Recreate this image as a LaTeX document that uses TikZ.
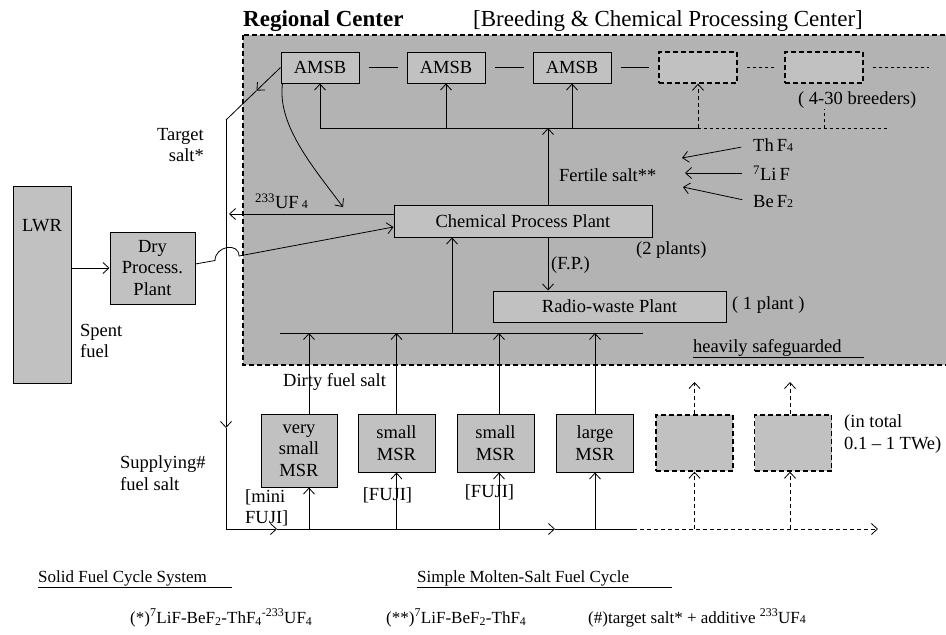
\documentclass[tikz,border=0pt]{standalone}
\usepackage{fontspec}
\setmainfont{Liberation Serif}
\usepackage{tikz}
\usetikzlibrary{arrows.meta,positioning,calc}
\definecolor{zone}{RGB}{179,179,179}
\definecolor{boxg}{RGB}{193,193,193}
\newcommand{\bodyfont}{\fontsize{18.5}{21.5}\selectfont}
\newcommand{\notefont}{\fontsize{17}{20}\selectfont}
\newcommand{\lowdig}[1]{{\fontsize{12}{12}\selectfont #1}}

\begin{document}
\begin{tikzpicture}[x=1pt,y=-1pt,
      font=\bodyfont,
      box/.style={draw,line width=1pt,fill=boxg,minimum width=78pt,minimum height=31pt,
                  inner sep=2pt,align=center},
      dbox/.style={box,line width=1.4pt,dash pattern=on 5pt off 3pt},
      ar/.style={-{Straight Barb[length=6pt,width=11pt]},line width=0.8pt},
      dar/.style={ar,dash pattern=on 4pt off 3pt},
      ln/.style={line width=0.8pt},
      txt/.style={inner sep=0pt,align=left}]
      \useasboundingbox (0,0) rectangle (946,635);
      \clip (0,0) rectangle (946,635);
      \fill[white] (0,0) rectangle (946,635);
      \node[txt,anchor=base west,font=\fontsize{23}{26}\selectfont\bfseries] (rc) at (243,26) {Regional Center};
      \node[txt,anchor=base west,font=\fontsize{23}{26}\selectfont] (bcp) at (473,26) {[Breeding \& Chemical Processing Center]};
      \draw[fill=zone,line width=1.6pt,dash pattern=on 5pt off 3pt] (243,35) rectangle (960,365);
      \node[box] (a1) at (320,67.5) {AMSB};
      \node[box] (a2) at (446,67.5) {AMSB};
      \node[box] (a3) at (572,67.5) {AMSB};
      \node[dbox] (a4) at (698,67.5) {};
      \node[dbox] (a5) at (824,67.5) {};
      \coordinate (rowend) at (929,67.5);
      \draw[ln,shorten <=9pt,shorten >=9pt] (a1.east) -- (a2.west); \draw[ln,shorten <=9pt,shorten >=9pt] (a2.east) -- (a3.west);
      \draw[ln,shorten <=9pt,shorten >=9pt] (a3.east) -- (a4.west); \draw[ln,dashed,shorten <=9pt,shorten >=9pt] (a4.east) -- (a5.west);
      \draw[ln,dashed,shorten <=9pt] (a5.east) -- (rowend);
      \coordinate (bus0) at (320,128); \coordinate (bus4) at (698,128); \coordinate (busend) at (889,128);
      \draw[ln] (bus0) -- (bus4); \draw[ln,dashed] (bus4) -- (busend);
      \draw[ar] (bus0) -- (a1.south); \draw[ar] (a2.south |- bus0) -- (a2.south);
      \draw[ar] (a3.south |- bus0) -- (a3.south); \draw[dar] (bus4) -- (a4.south);
      \node[txt,anchor=west] (br) at (798,100) {( 4-30 breeders)};
      \coordinate (brk) at (824,128);
      \draw[ln,dashed] (brk) -- (brk |- br.south);
      \node[box,minimum width=258pt,minimum height=32pt] (cpp) at (523,221) {Chemical Process Plant};
      \node[box,minimum width=233pt] (rwp) at (609.5,306.5) {Radio-waste Plant};
      \coordinate (fp) at (548,128);
      \draw[ar] (cpp.north -| fp) -- (fp); \draw[ar] (cpp.south -| fp) -- (rwp.north -| fp);
      \node[txt,anchor=west] (fpl) at (551,265) {(F.P.)};
      \node[txt,anchor=west] (two) at (636,250) {(2 plants)};
      \node[txt,anchor=west] (one) at (732,305) {( 1 plant )};
      \node[txt,anchor=west] (fert) at (559,175) {Fertile salt**};
      \node[txt,anchor=west] (thf) at (753,145) {Th\,F\lowdig{4}};
      \node[txt,anchor=west] (lif) at (753,173) {\textsuperscript{7}Li\,F};
      \node[txt,anchor=west] (bef) at (753,202) {Be\,F\lowdig{2}};
      \coordinate (fa) at (682,158); \coordinate (fb) at (685,173); \coordinate (fc) at (683,187);
      \draw[ar,shorten <=12pt] (thf.west) -- (fa); \draw[ar,shorten <=11pt] (lif.west) -- (fb);
      \draw[ar,shorten <=11pt] (bef.west) -- (fc);
      \node[box,minimum width=58pt,minimum height=197pt,
            label={[txt,anchor=north,yshift=-34pt]north:LWR}] (lwr) at (42,284.5) {};
      \node[box,minimum width=85pt,minimum height=72pt] (dry) at (152.5,268) {Dry\\Process.\\Plant};
      \draw[ar] (lwr.east |- dry) -- (dry.west);
      \node[txt,anchor=west] (spent) at (80,341) {Spent\\fuel};
      \node[txt,anchor=east,align=right] (tgt) at (204,145) {Target\\salt*};
      \node[txt,anchor=west] (sup) at (120,473) {Supplying\#\\fuel salt};
      \coordinate (ltop) at (226,120); \coordinate (lmid) at (226,428); \coordinate (lbot) at (226,529);
      \coordinate (tm) at ($(a1.west)!0.44!(ltop)$);
      \draw[ar] (a1.west) -- (tm); \draw[ln] (tm) -- (ltop);
      \coordinate (s1) at (277,529); \coordinate (s2) at (555,529);
      \coordinate (s3) at (633,529); \coordinate (send) at (878,529);
      \draw[ar] (ltop) -- (lmid); \draw[ar] (lmid) -- (lbot) -- (s1);
      \draw[ar] (s1) -- (s2); \draw[ln] (s2) -- (s3); \draw[dar] (s3) -- (send);
      \coordinate (uf) at (229,214);
      \draw[ar] ([yshift=7pt]cpp.west) -- (uf);
      \node[txt,anchor=west] (ufl) at (255,201) {\textsuperscript{233}UF\,\lowdig{4}};
      \coordinate (uftip) at (343,207);
      \draw[ar] ([xshift=2pt]a1.south west) .. controls (277,125) and (313,167) .. (uftip);
      \coordinate (h1) at (215,260.5); \coordinate (h2) at (239,256);
      \draw[ln] ([yshift=4pt]dry.east) -- (h1) .. controls (215,246) and (239,242) .. (h2);
      \draw[ar] (h2) -- ([yshift=-6pt]cpp.west);
      \coordinate (ib0) at (280,333); \coordinate (ib1) at (643,333); \coordinate (ic) at (452,333);
      \draw[ln] (ib0) -- (ib1);
      \draw[ar] (ic) -- (cpp.south -| ic);
      \node[box,minimum width=76pt,minimum height=73pt] (m1) at (299,450.5) {very\\small\\MSR};
      \node[box,minimum width=77pt,minimum height=58pt] (m2) at (396.5,443) {small\\MSR};
      \node[box,minimum width=77pt,minimum height=58pt] (m3) at (495.5,443) {small\\MSR};
      \node[box,minimum width=77pt,minimum height=58pt] (m4) at (595,443) {large\\MSR};
      \node[dbox,minimum width=77pt,minimum height=56pt] (m5) at (694.5,443) {};
      \node[dbox,minimum width=77pt,minimum height=56pt] (m6) at (793,443) {};
      \draw[ar] ([xshift=10pt]m1.north) -- ([xshift=10pt]m1.north |- ib0);
      \draw[ar] (m2.north) -- (m2.north |- ib0);
      \draw[ar] ([xshift=3.5pt]m3.north) -- ([xshift=3.5pt]m3.north |- ib0);
      \draw[ar] (m4.north) -- (m4.north |- ib0);
      \coordinate (dtop) at (700,382);
      \draw[dar] (m5.north) -- (m5.north |- dtop); \draw[dar] ([xshift=-3pt]m6.north) -- ([xshift=-3pt]m6.north |- dtop);
      \draw[ar] ([xshift=10pt]m1.south |- lbot) -- ([xshift=10pt]m1.south);
      \draw[ar] (m2.south |- lbot) -- (m2.south);
      \draw[ar] ([xshift=3.5pt]m3.south |- lbot) -- ([xshift=3.5pt]m3.south);
      \draw[ar] (m4.south |- lbot) -- (m4.south);
      \draw[dar] (m5.south |- lbot) -- (m5.south); \draw[dar] ([xshift=-3pt]m6.south |- lbot) -- ([xshift=-3pt]m6.south);
      \node[txt,anchor=west] (dfs) at (283,382) {Dirty fuel salt};
      \node[txt,anchor=west] (mini) at (245,508) {[mini\\FUJI]};
      \node[txt] (fj1) at (387.5,495) {[FUJI]};
      \node[txt] (fj2) at (489.5,492) {[FUJI]};
      \node[txt,anchor=west] (tot) at (844,434) {(in total\\0.1 -- 1 TWe)};
      \node[txt,anchor=base west] (hs) at (693,352) {\underline{heavily safeguarded\hspace{22pt}}};
      \node[txt,anchor=base west,font=\notefont] (sfc) at (38,582) {\underline{Solid Fuel Cycle System\hspace{25pt}}};
      \node[txt,anchor=base west,font=\notefont] (smf) at (417,582) {\underline{Simple Molten-Salt Fuel Cycle\hspace{43pt}}};
      \node[txt,anchor=base west,font=\notefont] (f1) at (130,623) {(*)\textsuperscript{7}LiF-BeF\textsubscript{2}-ThF\textsubscript{4}\textsuperscript{-233}UF\textsubscript{4}};
      \node[txt,anchor=base west,font=\notefont] (f2) at (386,623) {(**)\textsuperscript{7}LiF-BeF\textsubscript{2}-ThF\textsubscript{4}};
      \node[txt,anchor=base west,font=\notefont] (f3) at (588,623) {(\#)target salt* + additive \textsuperscript{233}UF\lowdig{4}};
    \end{tikzpicture}
\end{document}
